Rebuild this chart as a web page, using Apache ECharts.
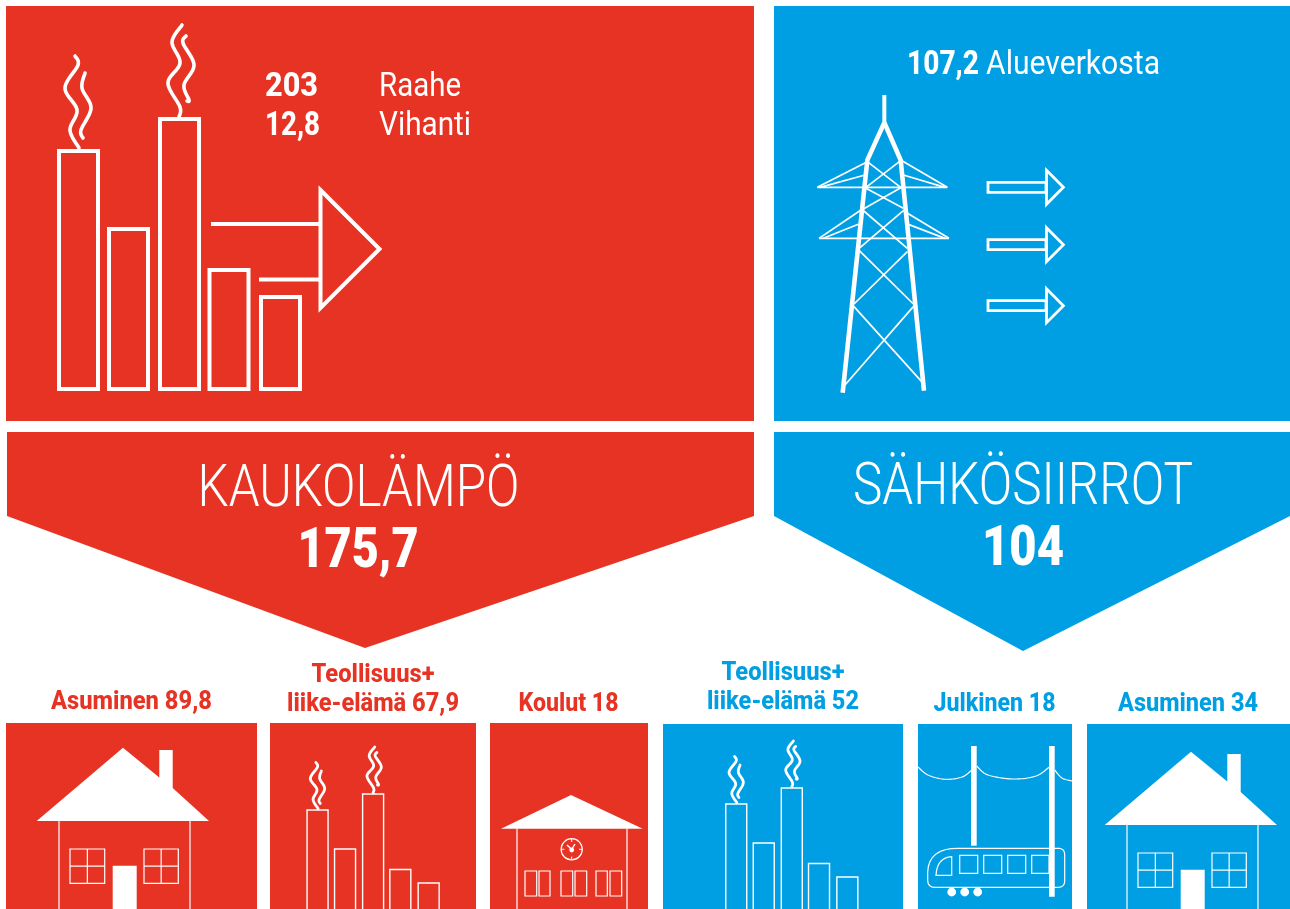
<!DOCTYPE html>
<html>
<head>
<meta charset="utf-8">
<title>Kaukolämpö ja sähkösiirrot</title>
<script src="https://cdn.jsdelivr.net/npm/echarts@6/dist/echarts.min.js"></script>
<style>
html, body { margin: 0; padding: 0; background: #fff; overflow: hidden; }
#main { width: 1290px; height: 909px; }
</style>
</head>
<body>
<div id="main"></div>
<script>
// values
var heatSources = ['Raahe', 'Vihanti'];
var heatSourceValues = [203, 12.8];
var gridSource = 'Alueverkosta';
var gridSourceValue = 107.2;
var heatTitle = 'KAUKOLÄMPÖ';
var heatTotal = 175.7;
var powerTitle = 'SÄHKÖSIIRROT';
var powerTotal = 104;
var heatUsers = ['Asuminen', 'liike-elämä', 'Koulut'];
var heatUserValues = [89.8, 67.9, 18];
var powerUsers = ['liike-elämä', 'Julkinen', 'Asuminen'];
var powerUserValues = [52, 18, 34];
var industryPrefix = 'Teollisuus+';

var RED = '#E63323', BLUE = '#009FE3', WHITE = '#fff';
var FONT = 'Roboto, sans-serif';

var els = [];
var measure = document.createElement('canvas').getContext('2d');

function fmt(v) {
    return String(v).replace('.', ',');
}

function rect(x0, y0, x1, y1, color) {
    els.push({ type: 'rect', shape: { x: x0, y: y0, width: x1 - x0, height: y1 - y0 }, style: { fill: color } });
}
function poly(points, color) {
    els.push({ type: 'polygon', shape: { points: points }, style: { fill: color } });
}
function outline(points, lw) {
    els.push({ type: 'polygon', shape: { points: points }, style: { fill: 'none', stroke: WHITE, lineWidth: lw, lineJoin: 'miter' } });
}
function box(x0, y0, x1, y1, lw) {
    els.push({ type: 'rect', shape: { x: x0, y: y0, width: x1 - x0, height: y1 - y0 }, style: { fill: 'none', stroke: WHITE, lineWidth: lw } });
}
function line(points, lw, round) {
    els.push({ type: 'polyline', shape: { points: points }, style: { fill: 'none', stroke: WHITE, lineWidth: lw, lineCap: round ? 'round' : 'butt', lineJoin: round ? 'round' : 'miter' } });
}

// catmull-rom through the read points, for smoke and wires
function spline(p) {
    var out = [];
    for (var i = 0; i < p.length - 1; i++) {
        var a = p[Math.max(i - 1, 0)], b = p[i], c = p[i + 1], d = p[Math.min(i + 2, p.length - 1)];
        for (var k = 0; k < 12; k++) {
            var t = k / 12, t2 = t * t, t3 = t2 * t;
            out.push([
                0.5 * (2 * b[0] + (c[0] - a[0]) * t + (2 * a[0] - 5 * b[0] + 4 * c[0] - d[0]) * t2 + (3 * b[0] - a[0] - 3 * c[0] + d[0]) * t3),
                0.5 * (2 * b[1] + (c[1] - a[1]) * t + (2 * a[1] - 5 * b[1] + 4 * c[1] - d[1]) * t2 + (3 * b[1] - a[1] - 3 * c[1] + d[1]) * t3)
            ]);
        }
    }
    out.push(p[p.length - 1]);
    return out;
}

// rounded corner from a over corner b to c
function corner(a, b, c) {
    var out = [];
    for (var k = 0; k <= 8; k++) {
        var t = k / 8, u = 1 - t;
        out.push([u * u * a[0] + 2 * u * t * b[0] + t * t * c[0], u * u * a[1] + 2 * u * t * b[1] + t * t * c[1]]);
    }
    return out;
}

// text squeezed to the width it has in the picture, y is the baseline
function txt(str, x, base, size, weight, color, align, width) {
    var font = weight + ' ' + size + 'px ' + FONT;
    measure.font = font;
    var sx = width ? width / measure.measureText(str).width : 1;
    els.push({
        type: 'text', x: x, y: base - size * 0.275, scaleX: sx,
        style: { text: str, fill: color, font: font, textAlign: align, textVerticalAlign: 'middle' }
    });
}

// chimneys with smoke, drawn in the coordinates of the big one
var smokePaths = [
    [[75, 56], [78, 65], [65, 88], [77, 110], [70, 130], [79, 148]],
    [[85, 73], [82, 88], [91, 108], [81, 130], [83, 138]],
    [[182, 25], [172, 42], [180, 63], [168, 83], [180, 107], [179, 117]],
    [[186, 36], [183, 43], [194, 65], [184, 85], [189, 100], [187, 101]]
];
var chimneys = [[59, 151], [109, 229], [160, 119], [209.5, 270], [261, 297]];

function factory(ox, oy, sx, sy, barW, lw, smokeW) {
    chimneys.forEach(function (c) {
        var x = ox + c[0] * sx, y = oy + c[1] * sy;
        box(x, y, x + barW, oy + 389 * sy, lw);
    });
    smokePaths.forEach(function (p) {
        line(spline(p.map(function (q) { return [ox + q[0] * sx, oy + q[1] * sy]; })), smokeW, true);
    });
}

function house(ox, oy) {
    poly([[36.7 + ox, 821 + oy], [123 + ox, 747.7 + oy], [159.3 + ox, 777.5 + oy], [159.3 + ox, 750 + oy], [172.7 + ox, 750 + oy], [172.7 + ox, 788 + oy], [209 + ox, 821 + oy]], WHITE);
    line([[59 + ox, 821 + oy], [59 + ox, 909]], 1.2);
    line([[190 + ox, 821 + oy], [190 + ox, 909]], 1.2);
    [[70, 104.7], [144, 178.3]].forEach(function (w) {
        box(w[0] + ox, 849 + oy, w[1] + ox, 883.3 + oy, 1.2);
        line([[(w[0] + w[1]) / 2 + ox, 849 + oy], [(w[0] + w[1]) / 2 + ox, 883.3 + oy]], 1.2);
        line([[w[0] + ox, 866.2 + oy], [w[1] + ox, 866.2 + oy]], 1.2);
    });
    rect(112.7 + ox, 865.7 + oy, 136.7 + ox, 909, WHITE);
}

// --- big panels
rect(6, 6, 754, 421, RED);
rect(774, 6, 1290, 421, BLUE);
poly([[7, 432], [754, 432], [754, 516], [365, 648], [7, 516]], RED);
poly([[774, 432], [1290, 432], [1290, 516], [1023, 651], [774, 516]], BLUE);

// --- small panels
rect(6, 723, 257, 909, RED);
rect(270, 723, 476, 909, RED);
rect(490, 723, 648, 909, RED);
rect(663, 724, 903, 909, BLUE);
rect(918, 724, 1072, 909, BLUE);
rect(1087, 724, 1290, 909, BLUE);

// --- big factory and arrow
factory(0, 0, 1, 1, 39, 4, 3.6);
outline([[320.5, 190], [379.5, 249], [320.5, 308]], 4);
line([[211, 224], [320, 224]], 4);
line([[259, 279.5], [320, 279.5]], 4);

// --- tower, in the crop coordinates it was read from
function tp(x, y) {
    return [790 + x / 3, 80 + y / 3];
}
line([tp(283, 45), tp(283, 128)], 4);
line([tp(283, 128), tp(232, 240), tp(158, 938)], 4.6);
line([tp(283, 128), tp(332, 240), tp(402, 932)], 4.6);
[
    [82, 322, 472, 322], [87, 475, 477, 475],
    [232, 245, 82, 322], [225, 285, 90, 322], [332, 240, 472, 322], [340, 285, 465, 322],
    [213, 390, 87, 475], [205, 433, 100, 475], [340, 392, 477, 475], [355, 433, 465, 475],
    [232, 245, 332, 322], [328, 245, 228, 322], [228, 325, 340, 385], [335, 322, 220, 387],
    [218, 390, 352, 505], [340, 392, 210, 503], [208, 512, 370, 672], [352, 515, 192, 672],
    [192, 680, 395, 905], [370, 680, 165, 915]
].forEach(function (s) {
    line([tp(s[0], s[1]), tp(s[2], s[3])], 1.7);
});

// --- three small arrows
[187.3, 244.7, 305.7].forEach(function (y) {
    box(988, y - 5, 1046, y + 5, 2.8);
    outline([[1046.5, y - 17], [1063.4, y], [1046.5, y + 17]], 2.8);
});

// --- small pictures
house(0, 0);
house(1068, 4);
factory(274.6, 734.5, 0.55, 0.5, 21, 1.4, 2.8);
factory(693.3, 728.5, 0.55, 0.5, 21, 1.4, 2.8);

// school
poly([[501, 828.7], [571, 795], [642.7, 828.7]], WHITE);
line([[517, 828.7], [517, 909]], 1.2);
line([[627, 828.7], [627, 909]], 1.2);
els.push({ type: 'circle', shape: { cx: 571.7, cy: 849.3, r: 10.6 }, style: { fill: 'none', stroke: WHITE, lineWidth: 1.2 } });
line([[571.7, 838.7], [571.7, 842]], 1);
line([[571.7, 856.6], [571.7, 860]], 1);
line([[561, 849.3], [564.4, 849.3]], 1);
line([[579, 849.3], [582.3, 849.3]], 1);
line([[567, 845], [571.7, 849.3], [575, 844]], 1.4);
els.push({ type: 'circle', shape: { cx: 571.7, cy: 850, r: 2.4 }, style: { fill: WHITE } });
[[525, 536.7], [539, 550], [561, 572.7], [575, 586.7], [596, 607.3], [610, 621.7]].forEach(function (w) {
    box(w[0], 871, w[1], 896, 1.2);
});

// train
line(spline([[918, 767], [928, 775], [945, 779.3], [962, 777], [971, 770.7]]), 1.2);
line(spline([[976.7, 766], [988, 775], [1013.3, 779], [1036, 776], [1049, 767.3]]), 1.2);
line(spline([[1054.7, 770], [1062, 778], [1072, 781]]), 1.2);
rect(971, 746, 976.7, 845.7, WHITE);
outline([].concat(
    corner([1058, 848.3], [1064.7, 848.3], [1064.7, 855]),
    corner([1064.7, 880.5], [1064.7, 887.3], [1058, 887.3]),
    corner([935, 887.3], [927.7, 887.3], [927.7, 880]),
    corner([927.7, 872], [928.5, 848.3], [958, 848.3])
), 1.2);
outline([[951.7, 856.7], [951.7, 875.3], [936, 875.3]].concat(corner([936, 875.3], [937, 857.5], [951.7, 856.7])), 1.2);
[[959.7, 977.7], [983.7, 1001.7], [1007.7, 1025.7], [1031.7, 1049]].forEach(function (w) {
    box(w[0], 855.3, w[1], 873.3, 1.2);
});
rect(1049, 746, 1054.7, 896.7, WHITE);
[951.7, 964.7, 977.7].forEach(function (x) {
    els.push({ type: 'circle', shape: { cx: x, cy: 892, r: 4.4 }, style: { fill: WHITE } });
});

// --- texts, built from the data arrays
txt(fmt(heatSourceValues[0]), 265, 96.5, 33, 800, WHITE, 'left', 53);
txt(fmt(heatSourceValues[1]), 265, 135.5, 33, 800, WHITE, 'left', 55);
txt(heatSources[0], 379, 96.5, 33, 400, WHITE, 'left', 82);
txt(heatSources[1], 379, 135.5, 33, 400, WHITE, 'left', 92);
txt(fmt(gridSourceValue), 907, 75, 33, 800, WHITE, 'left', 72);
txt(gridSource, 986, 75, 33, 400, WHITE, 'left', 174);

txt(heatTitle, 358.5, 507, 60, 350, WHITE, 'center', 322);
txt(fmt(heatTotal), 358, 568, 55, 900, WHITE, 'center', 121);
txt(powerTitle, 1023, 505, 60, 350, WHITE, 'center', 340);
txt(fmt(powerTotal), 1023, 566, 55, 900, WHITE, 'center', 82);

txt(heatUsers[0] + ' ' + fmt(heatUserValues[0]), 131.5, 710, 25, 800, RED, 'center', 161);
txt(industryPrefix, 373, 683, 25, 800, RED, 'center', 123);
txt(heatUsers[1] + ' ' + fmt(heatUserValues[1]), 373, 712, 25, 800, RED, 'center', 172);
txt(heatUsers[2] + ' ' + fmt(heatUserValues[2]), 568.5, 712, 25, 800, RED, 'center', 100);
txt(industryPrefix, 783, 681, 25, 800, BLUE, 'center', 123);
txt(powerUsers[0] + ' ' + fmt(powerUserValues[0]), 783, 710, 25, 800, BLUE, 'center', 152);
txt(powerUsers[1] + ' ' + fmt(powerUserValues[1]), 994.5, 712, 25, 800, BLUE, 'center', 122);
txt(powerUsers[2] + ' ' + fmt(powerUserValues[2]), 1188, 712, 25, 800, BLUE, 'center', 140);

var myChart = echarts.init(document.getElementById('main'), null, { renderer: 'canvas' });
myChart.setOption({
    backgroundColor: '#fff',
    animation: false,
    graphic: { elements: els }
});
</script>
</body>
</html>
